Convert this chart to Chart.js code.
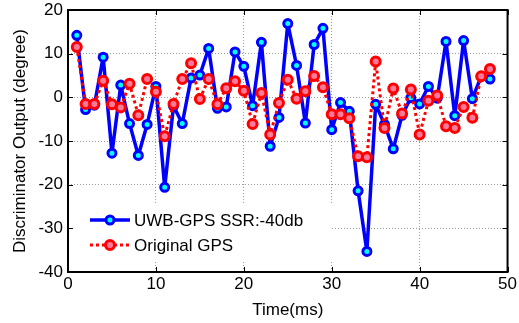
<!DOCTYPE html>
<html>
<head>
<meta charset="utf-8">
<script src="https://cdn.jsdelivr.net/npm/chart.js@4.4.1/dist/chart.umd.min.js"></script>
<style>
  html, body { margin: 0; padding: 0; background: #fff; }
  #wrap { width: 519px; height: 323px; }
</style>
</head>
<body>
<div id="wrap"><canvas id="discChart" width="519" height="323"></canvas></div>
<script>
// time axis (ms)
var times = [1,2,3,4,5,6,7,8,9,10,11,12,13,14,15,16,17,18,19,20,21,22,23,24,
             25,26,27,28,29,30,31,32,33,34,35,36,37,38,39,40,41,42,43,44,45,46,47,48];

// UWB-GPS SSR:-40db
var uwbValues = [14.2,-2.8,-1.8,9.2,-12.8,2.8,-6.0,-13.3,-6.2,2.5,-20.6,-2.0,-6.0,4.4,5.1,11.2,
                 -2.5,-2.2,10.4,7.1,-1.9,12.6,-11.2,-4.6,16.9,7.3,-5.9,12.1,15.8,-7.4,-1.2,-3.2,
                 -21.4,-35.3,-1.6,-6.2,-11.8,-4.1,-0.1,-1.5,2.5,-0.2,12.8,-4.2,13.0,-0.3,4.8,4.2];

// Original GPS
var gpsValues = [11.5,-1.5,-1.5,3.8,-1.6,-2.3,3.1,-4.1,4.2,1.3,-8.9,-1.5,4.2,7.8,-0.4,4.2,
                 -1.6,2.1,3.7,1.5,-6.1,1.0,-8.5,-1.3,4.0,-0.3,1.4,4.9,2.3,-3.9,-3.9,-4.8,
                 -13.5,-13.7,8.2,-7.0,2.0,-3.7,1.8,-8.5,-0.8,0.4,-6.6,-7.0,-2.2,-4.7,4.8,6.5];

var xTicks = [0,10,20,30,40,50];
var yTicks = [-40,-30,-20,-10,0,10,20];

var seriesNames = ["UWB-GPS SSR:-40db", "Original GPS"];

var FONT = "'Liberation Sans', Arial, sans-serif";

// frame, inward ticks and the legend box, matlab style
var matlabBits = {
    id: 'matlabBits',
    afterDatasetsDraw(chart) {
        const ctx = chart.ctx;
        const a = chart.chartArea;
        const xs = chart.scales.x, ys = chart.scales.y;
        ctx.save();
        // inward ticks
        ctx.strokeStyle = "#000";
        ctx.lineWidth = 1;
        ctx.beginPath();
        xTicks.forEach(function(v){
            const px = Math.round(xs.getPixelForValue(v)) + 0.5;
            ctx.moveTo(px, a.bottom); ctx.lineTo(px, a.bottom - 5);
            ctx.moveTo(px, a.top); ctx.lineTo(px, a.top + 5);
        });
        yTicks.forEach(function(v){
            const py = Math.round(ys.getPixelForValue(v)) + 0.5;
            ctx.moveTo(a.left, py); ctx.lineTo(a.left + 5, py);
            ctx.moveTo(a.right, py); ctx.lineTo(a.right - 5, py);
        });
        ctx.stroke();

        // legend
        const lx = a.left + 6, ly = a.bottom - 67, lw = 258, lh = 57;
        ctx.fillStyle = "#fff";
        ctx.fillRect(lx, ly, lw, lh);
        const ds = chart.data.datasets;
        const rows = [ly + 15, ly + 40];
        ds.forEach(function(d, i){
            const y = rows[i];
            ctx.strokeStyle = d.borderColor;
            ctx.lineWidth = d.borderWidth;
            ctx.setLineDash(d.borderDash || []);
            ctx.beginPath();
            ctx.moveTo(lx + 16, y); ctx.lineTo(lx + 56, y);
            ctx.stroke();
            ctx.setLineDash([]);
            ctx.beginPath();
            ctx.arc(lx + 36, y, d.pointRadius, 0, Math.PI * 2);
            ctx.fillStyle = d.pointBackgroundColor;
            ctx.fill();
            ctx.lineWidth = d.pointBorderWidth;
            ctx.strokeStyle = d.pointBorderColor;
            ctx.stroke();
            ctx.fillStyle = "#000";
            ctx.font = "17px " + FONT;
            ctx.textBaseline = "middle";
            ctx.textAlign = "left";
            ctx.fillText(d.label, lx + 60, y + 1);
        });

        // box
        ctx.strokeStyle = "#000";
        ctx.lineWidth = 2;
        ctx.strokeRect(a.left, a.top, a.right - a.left, a.bottom - a.top);
        ctx.restore();
    }
};

var ctx = document.getElementById("discChart").getContext('2d');
var chart = new Chart(ctx, {
    type: "line",
    data: {
        datasets: [{
            label: seriesNames[0],
            data: times.map((t, i) => ({ x: t, y: uwbValues[i] })),
            borderColor: "#0000ff",
            borderWidth: 3.5,
            borderJoinStyle: "round",
            pointRadius: 4,
            pointBorderWidth: 3,
            pointBorderColor: "#0000ff",
            pointBackgroundColor: "#00ffff",
            tension: 0,
            order: 2
        }, {
            label: seriesNames[1],
            data: times.map((t, i) => ({ x: t, y: gpsValues[i] })),
            borderColor: "#ff0000",
            borderWidth: 3,
            borderDash: [3, 3],
            borderJoinStyle: "round",
            pointRadius: 4.5,
            pointBorderWidth: 3,
            pointBorderColor: "#ff0000",
            pointBackgroundColor: "#ff7a9a",
            tension: 0,
            order: 1
        }]
    },
    options: {
        responsive: false,
        animation: false,
        layout: { padding: { top: 0, right: 0, left: 4, bottom: 0 } },
        plugins: {
            legend: { display: false },
            tooltip: { enabled: false }
        },
        scales: {
            x: {
                type: 'linear',
                min: 0, max: 50,
                afterBuildTicks: function(s){ s.ticks = xTicks.map(v => ({ value: v })); },
                afterFit: function(s){ s.height = 51; },
                grid: { color: "#9a9a9a", lineWidth: 1, borderDash: [1, 2], drawTicks: false },
                border: { display: false, dash: [1, 2] },
                ticks: { color: "#000", font: { family: FONT, size: 17 }, padding: 2, maxRotation: 0 },
                title: { display: true, text: "Time(ms)", color: "#000",
                         font: { family: FONT, size: 17 }, padding: { top: 0, bottom: 2 } }
            },
            y: {
                min: -40, max: 20,
                afterBuildTicks: function(s){ s.ticks = yTicks.map(v => ({ value: v })); },
                afterFit: function(s){ s.width = 64; s.paddingTop = 10; s.paddingBottom = 0; },
                grid: { color: "#9a9a9a", lineWidth: 1, borderDash: [1, 2], drawTicks: false },
                border: { display: false, dash: [1, 2] },
                ticks: { color: "#000", font: { family: FONT, size: 17 }, padding: 5 },
                title: { display: true, text: "Discriminator Output (degree)", color: "#000",
                         font: { family: FONT, size: 17 }, padding: { top: 6, bottom: 0 } }
            }
        }
    },
    plugins: [matlabBits]
});
</script>
</body>
</html>
